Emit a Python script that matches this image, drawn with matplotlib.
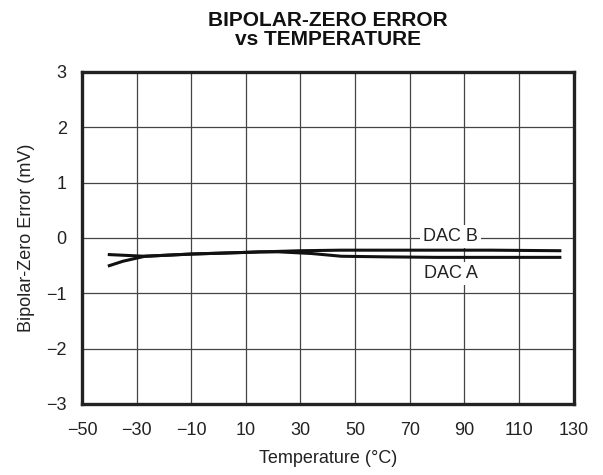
import matplotlib
matplotlib.use("Agg")
import matplotlib.pyplot as plt

plt.rcParams['font.family'] = ['Liberation Sans', 'DejaVu Sans']
plt.rcParams['axes.unicode_minus'] = True

temp_a = [-40, -35, -27, -10, 0, 10, 15, 22, 34, 45, 60, 80, 100, 125]
dac_a = [-0.50, -0.42, -0.33, -0.29, -0.275, -0.26, -0.25, -0.25, -0.28, -0.33, -0.34, -0.35, -0.35, -0.35]
temp_b = [-40, -27, -10, 0, 10, 20, 30, 45, 70, 100, 125]
dac_b = [-0.30, -0.33, -0.29, -0.275, -0.26, -0.245, -0.23, -0.22, -0.22, -0.22, -0.23]

xticks = [-50, -30, -10, 10, 30, 50, 70, 90, 110, 130]
yticks = [-3, -2, -1, 0, 1, 2, 3]

fig = plt.figure(figsize=(6.03, 4.75), dpi=100)
ax = fig.add_axes([82/603, 1-404/475, (573.5-82)/603, (404-72)/475])

ax.set_xlim(-50, 130)
ax.set_ylim(-3, 3)
ax.set_xticks(xticks)
ax.set_yticks(yticks)
ax.set_xticklabels([str(t).replace('-', '\u2212') for t in xticks])
ax.set_yticklabels([str(t).replace('-', '\u2212') for t in yticks])
ax.tick_params(axis='x', length=0, labelsize=13, pad=13, colors='#222222')
ax.tick_params(axis='y', length=0, labelsize=13, pad=11, colors='#222222')
ax.grid(True, color='#444444', linewidth=0.9)
ax.set_axisbelow(True)
for s in ax.spines.values():
    s.set_linewidth(2.4)
    s.set_color('#222222')

ax.plot(temp_a, dac_a, color='#111111', linewidth=2.2, zorder=3)
ax.plot(temp_b, dac_b, color='#111111', linewidth=2.2, zorder=3)

bbox = dict(facecolor='white', edgecolor='none', pad=2)
ax.text(85, 0.03, 'DAC B', ha='center', va='center', fontsize=13, color='#222222', bbox=bbox, zorder=4)
ax.text(85, -0.64, 'DAC A', ha='center', va='center', fontsize=13, color='#222222', bbox=bbox, zorder=4)

ax.set_xlabel('Temperature (\u00b0C)', fontsize=13, color='#222222', labelpad=8)
ax.set_ylabel('Bipolar-Zero Error (mV)', fontsize=13, color='#222222', labelpad=8)

fig.text(328/603, 1-30/475, 'BIPOLAR-ZERO ERROR\nvs TEMPERATURE', ha='center', va='center',
         fontsize=15, fontweight='bold', color='#111111', linespacing=0.95)

fig.savefig('out.png', dpi=100, facecolor='white')
